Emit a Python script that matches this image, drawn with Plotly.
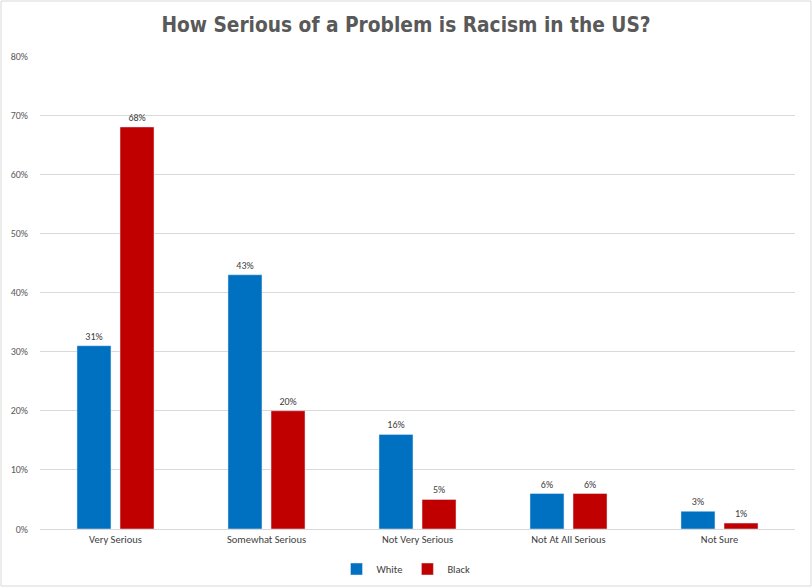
import plotly.graph_objects as go

categories = ["Very Serious", "Somewhat Serious", "Not Very Serious", "Not At All Serious", "Not Sure"]
white = [31, 43, 16, 6, 3]
black = [68, 20, 5, 6, 1]
y_ticks = [0, 10, 20, 30, 40, 50, 60, 70, 80]
y_tick_labels = [f"{v}%" for v in y_ticks]

label_font = dict(family="Carlito, Lato, sans-serif", size=10, color="#404040")

fig = go.Figure()
fig.add_trace(go.Bar(
    name="White", x=categories, y=white, marker_color="#0070C0",
    text=[f"{v}%" for v in white], textposition="outside", cliponaxis=False,
    textfont=label_font,
))
fig.add_trace(go.Bar(
    name="Black", x=categories, y=black, marker_color="#C00000",
    text=[f"{v}%" for v in black], textposition="outside", cliponaxis=False,
    textfont=label_font,
))

fig.update_layout(
    width=812, height=588,
    margin=dict(l=40, r=17, t=56, b=59, autoexpand=False),
    paper_bgcolor="white", plot_bgcolor="white",
    barmode="group", bargap=0.43, bargroupgap=0.21,
    font=dict(family="Carlito, Lato, sans-serif", color="#595959", size=10),
    title=dict(
        text="<b>How Serious of a Problem is Racism in the US?</b>",
        x=0.5, xanchor="center", y=1 - 25 / 588, yanchor="middle",
        font=dict(family="'DejaVu Sans Condensed', 'Liberation Sans Narrow', sans-serif", size=20.7, color="#595959"),
    ),
    xaxis=dict(showgrid=False, showline=True, linecolor="#D9D9D9", ticks="",
               tickfont=dict(family="Carlito, Lato, sans-serif", size=10.5, color="#404040")),
    yaxis=dict(range=[0, 80], tickvals=y_ticks, ticktext=y_tick_labels,
               showgrid=True, gridcolor="#D9D9D9", zeroline=False, showline=False,
               tickfont=dict(family="Carlito, Lato, sans-serif", size=10, color="#595959"),
               ticklabelstandoff=11),
    legend=dict(orientation="h", x=0.5, xanchor="center", xref="container",
                y=1 - 569 / 588, yanchor="middle", yref="container",
                font=dict(family="Carlito, Lato, sans-serif", size=10.5, color="#404040"),
                itemwidth=30, tracegroupgap=0),
    shapes=[dict(type="rect", xref="paper", yref="paper",
                 x0=-39 / 755, x1=1 + 16 / 755, y0=-57 / 473, y1=1 + 55 / 473,
                 line=dict(color="#D9D9D9", width=1))],
)

fig.write_html("out.html", config={"displayModeBar": False},
               post_script="document.body.style.margin='0';")
